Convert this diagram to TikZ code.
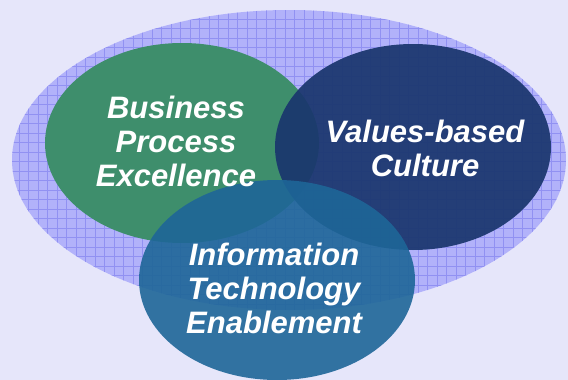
\documentclass[tikz,border=0pt]{standalone}
\usepackage{fontspec}
\setmainfont{Liberation Sans}
\definecolor{bglav}{RGB}{230,230,250}
\definecolor{palelav}{RGB}{178,178,250}
\definecolor{gridlav}{RGB}{145,145,242}
\definecolor{bpgreen}{RGB}{62,142,108}
\definecolor{vbnavy}{RGB}{26,54,110}
\definecolor{itteal}{RGB}{30,102,152}
\begin{document}
\begin{tikzpicture}[x=1pt,y=1pt,yscale=-1,
  lbl/.style={text=white,align=center,font=\fontsize{31}{34}\selectfont\bfseries\itshape}]
%set diagram left start at 0, and has height of 380
\useasboundingbox (0,0) rectangle (568,380);
\fill[bglav] (0,0) rectangle (568,380);

%Shape: Ellipse [id:dp4417]
\fill[palelav] (289,160) ellipse [x radius=277,y radius=150];
\begin{scope}
\clip (289,160) ellipse [x radius=277,y radius=150];
\draw[gridlav,line width=0.45pt] (0,0) grid[step=9.5] (568,380);
\end{scope}

%Shape: Ellipse [id:dp2081]
\fill[bpgreen] (182,143) ellipse [x radius=137,y radius=100];
%Shape: Ellipse [id:dp7735]
\fill[vbnavy,fill opacity=0.93] (413,147) ellipse [x radius=138,y radius=103];
%Shape: Ellipse [id:dp5120]
\fill[itteal,fill opacity=0.9] (277,280) ellipse [x radius=138,y radius=100];

% Text Node
\draw (176,141) node[lbl] (bpe) {Business\\Process\\Excellence};
% Text Node
\draw (425,148) node[lbl] (vbc) {Values-based\\Culture};
% Text Node
\draw (274,288) node[lbl] (ite) {Information\\Technology\\Enablement};

\end{tikzpicture}
\end{document}
